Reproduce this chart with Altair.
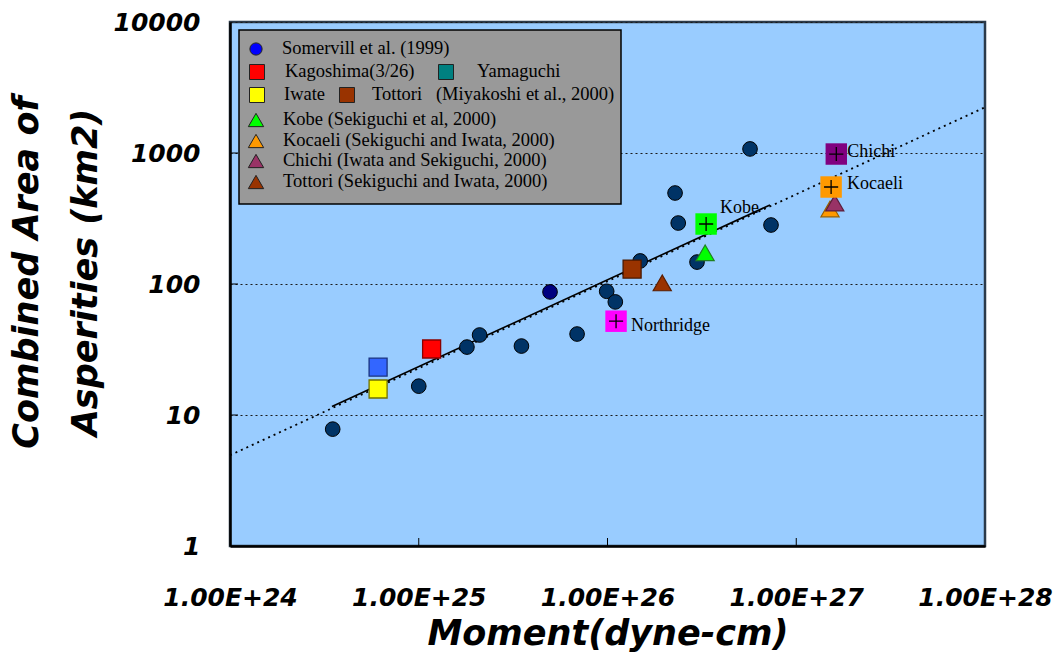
import altair as alt
import pandas as pd

# ---------------- data ----------------
# Somerville et al. (1999)
som_moment = [3.5e24, 1.0e25, 1.8e25, 2.1e25, 3.5e25, 6.9e25, 9.9e25, 1.1e26,
              1.49e26, 2.28e26, 2.37e26, 2.98e26, 5.69e26, 7.35e26]
som_area = [7.8, 16.6, 33, 40.8, 33.6, 41.5, 88, 73, 150, 495, 292, 147, 1074, 282]
som_dark_moment = [4.96e25]
som_dark_area = [87]

# squares (Miyakoshi et al.)
sq_names = ["Yamaguchi", "Iwate", "Kagoshima(3/26)", "Tottori  (Miyakoshi et al., 2000)"]
sq_moment = [6.09e24, 6.09e24, 1.17e25, 1.35e26]
sq_area = [23.2, 15.8, 31.9, 130]

# triangles (Sekiguchi / Iwata)
tri_names = ["Tottori (Sekiguchi and Iwata, 2000)", "Kobe (Sekiguchi et al, 2000)",
             "Kocaeli (Sekiguchi and Iwata, 2000)", "Chichi (Iwata and Sekiguchi, 2000)"]
tri_moment = [1.95e26, 3.29e26, 1.51e27, 1.6e27]
tri_area = [102, 173, 374, 415]

# crossed squares with labels
cross_names = ["Northridge", "Kobe", "Kocaeli", "Chichi"]
cross_moment = [1.11e26, 3.33e26, 1.53e27, 1.63e27]
cross_area = [52, 287, 550, 982]

# regression lines
fit_moment = [1e24, 1e28]
fit_area = [4.93, 2234]
seg_moment = [3.47e24, 7.26e26]
seg_area = [11.6, 401]

x_ticks = [1e24, 1e25, 1e26, 1e27, 1e28]
y_ticks = [1, 10, 100, 1000, 10000]
inner_x_ticks = [1e25, 1e26, 1e27]
inner_y_ticks = [10, 100, 1000]

legend_labels = ["Somervill et al. (1999)", "Kagoshima(3/26)", "Yamaguchi", "Iwate",
                 "Tottori\u00a0\u00a0 (Miyakoshi et al., 2000)",
                 "Kobe (Sekiguchi et al, 2000)", "Kocaeli (Sekiguchi and Iwata, 2000)",
                 "Chichi (Iwata and Sekiguchi, 2000)", "Tottori (Sekiguchi and Iwata, 2000)"]

# ---------------- styles ----------------
sq_fill = {"Yamaguchi": "#3366FF", "Iwate": "#FFFF00", "Kagoshima(3/26)": "#FF0000",
           "Tottori  (Miyakoshi et al., 2000)": "#993300"}
sq_stroke = {"Yamaguchi": "#1a3380", "Iwate": "#707000", "Kagoshima(3/26)": "#8a0000",
             "Tottori  (Miyakoshi et al., 2000)": "#4a1800"}
tri_fill = {tri_names[0]: "#993300", tri_names[1]: "#00FF00", tri_names[2]: "#FF9900",
            tri_names[3]: "#993366"}
tri_stroke = {tri_names[0]: "#5a1e00", tri_names[1]: "#208020", tri_names[2]: "#996000",
              tri_names[3]: "#5a1e3c"}
cross_fill = {"Northridge": "#FF00FF", "Kobe": "#00FF00", "Kocaeli": "#FF9900", "Chichi": "#800080"}
label_offset = {"Northridge": (15, 10), "Kobe": (14, -11), "Kocaeli": (16, 2), "Chichi": (11, 3)}

leg_fill = ["#0000FF", "#FF0000", "#008080", "#FFFF00", "#993300", "#00FF00", "#FF9900", "#993366", "#993300"]
leg_shape = ["circle", "square", "square", "square", "square",
             "triangle-up", "triangle-up", "triangle-up", "triangle-up"]
leg_size = [150, 225, 225, 225, 225, 235, 235, 235, 235]
# legend layout (pixels inside the plot area)
leg_row_y = [27, 50, 50, 73, 73, 98, 119, 139, 160]
leg_mark_x = [26, 27, 216, 27, 117, 26, 26, 26, 26]
leg_text_x = [52, 55, 247, 54, 142, 53, 53, 53, 53]

AX_FONT = "DejaVu Sans"
SERIF = "Liberation Serif"

# ---------------- tables ----------------
som_df = pd.DataFrame({"moment": som_moment, "area": som_area})
som_dark_df = pd.DataFrame({"moment": som_dark_moment, "area": som_dark_area})
sq_df = pd.DataFrame({"name": sq_names, "moment": sq_moment, "area": sq_area})
sq_df["fill"] = sq_df["name"].map(sq_fill)
sq_df["stroke"] = sq_df["name"].map(sq_stroke)
tri_df = pd.DataFrame({"name": tri_names, "moment": tri_moment, "area": tri_area})
tri_df["fill"] = tri_df["name"].map(tri_fill)
tri_df["stroke"] = tri_df["name"].map(tri_stroke)
cross_df = pd.DataFrame({"name": cross_names, "moment": cross_moment, "area": cross_area})
cross_df["fill"] = cross_df["name"].map(cross_fill)
fit_df = pd.DataFrame({"moment": fit_moment, "area": fit_area})
seg_df = pd.DataFrame({"moment": seg_moment, "area": seg_area})
xt_df = pd.DataFrame({"moment": inner_x_ticks})
yt_df = pd.DataFrame({"area": inner_y_ticks})
leg_df = pd.DataFrame({"label": legend_labels, "fill": leg_fill, "shape": leg_shape,
                       "sz": leg_size, "my": leg_row_y, "mx": leg_mark_x, "tx": leg_text_x})

x_enc = alt.X(
    "moment:Q",
    scale=alt.Scale(type="log", domain=[1e24, 1e28]),
    axis=alt.Axis(
        values=x_ticks,
        labelExpr="'1.00E+' + format(log(datum.value)/LN10, '.0f')",
        title="Moment(dyne-cm)",
        titleFont=AX_FONT, titleFontSize=35, titleFontStyle="italic", titleFontWeight="bold",
        titleColor="black", titleY=98, titleBaseline="alphabetic",
        labelFont=AX_FONT, labelFontSize=25, labelFontStyle="italic", labelFontWeight="bold",
        labelColor="black", labelPadding=39, labelFlush=False, labelOverlap=False,
        ticks=False, tickSize=0, grid=False,
        domainColor="black", domainWidth=2.5,
    ),
)
y_enc = alt.Y(
    "area:Q",
    scale=alt.Scale(type="log", domain=[1, 10000]),
    axis=alt.Axis(
        values=y_ticks, format="d",
        title=["Combined Area of", "Asperities (km2)"],
        titleFont=AX_FONT, titleFontSize=35, titleFontStyle="italic", titleFontWeight="bold",
        titleColor="black", titleAngle=270, titleX=-193, titleY=250,
        titleBaseline="alphabetic", titleAlign="center", titleLineHeight=59,
        labelFont=AX_FONT, labelFontSize=25, labelFontStyle="italic", labelFontWeight="bold",
        labelColor="black", labelPadding=30, labelOverlap=False, labelFlush=False,
        ticks=False, tickSize=0,
        grid=True, gridColor="#1a1a1a", gridDash=[2, 3], gridWidth=1.2,
        domainColor="black", domainWidth=2.5,
    ),
)

fit = alt.Chart(fit_df).mark_line(color="black", strokeWidth=1.8, strokeDash=[2, 4]).encode(
    x=x_enc, y=y_enc)
seg = alt.Chart(seg_df).mark_line(color="black", strokeWidth=1.6).encode(x="moment:Q", y="area:Q")

xt = alt.Chart(xt_df).mark_rule(color="black", strokeWidth=1).encode(
    x="moment:Q", y=alt.value(524), y2=alt.value(516))
yt = alt.Chart(yt_df).mark_rule(color="black", strokeWidth=1).encode(
    y="area:Q", x=alt.value(0), x2=alt.value(8))

som = alt.Chart(som_df).mark_point(
    shape="circle", filled=True, size=215, fill="#003366", stroke="black",
    strokeWidth=1, opacity=1).encode(x="moment:Q", y="area:Q")
som_dark = alt.Chart(som_dark_df).mark_point(
    shape="circle", filled=True, size=215, fill="#000080", stroke="black",
    strokeWidth=1, opacity=1).encode(x="moment:Q", y="area:Q")

sq = alt.Chart(sq_df).mark_point(shape="square", filled=True, size=324, strokeWidth=1.3,
                                 opacity=1).encode(
    x="moment:Q", y="area:Q",
    fill=alt.Fill("fill:N", scale=None), stroke=alt.Stroke("stroke:N", scale=None))

tri = alt.Chart(tri_df).mark_point(shape="triangle-up", filled=True, size=330, strokeWidth=1.2,
                                   opacity=1).encode(
    x="moment:Q", y="area:Q",
    fill=alt.Fill("fill:N", scale=None), stroke=alt.Stroke("stroke:N", scale=None))

csq = alt.Chart(cross_df).mark_point(shape="square", filled=True, size=460, opacity=1,
                                     strokeWidth=0).encode(
    x="moment:Q", y="area:Q", fill=alt.Fill("fill:N", scale=None))
cx = alt.Chart(cross_df).mark_point(shape="M-1,0L1,0M0,-1L0,1", filled=False, size=200,
                                    stroke="black", strokeWidth=1.3, opacity=1).encode(
    x="moment:Q", y="area:Q")

labels = []
for nm in cross_names:
    dx, dy = label_offset[nm]
    labels.append(
        alt.Chart(cross_df).transform_filter(alt.datum.name == nm).mark_text(
            align="left", baseline="alphabetic", dx=dx, dy=dy, font=SERIF, fontSize=18,
            color="black").encode(x="moment:Q", y="area:Q", text="name:N"))

box = alt.Chart(pd.DataFrame({"k": [0]})).mark_rect(
    fill="#999999", stroke="black", strokeWidth=1.5).encode(
    x=alt.value(9), x2=alt.value(391), y=alt.value(8), y2=alt.value(182))

leg_marks = alt.Chart(leg_df).mark_point(filled=True, opacity=1, stroke="#222222",
                                         strokeWidth=1).encode(
    x=alt.X("mx:Q", scale=None), y=alt.Y("my:Q", scale=None),
    shape=alt.Shape("shape:N", scale=None), fill=alt.Fill("fill:N", scale=None),
    size=alt.Size("sz:Q", scale=None))
leg_text = alt.Chart(leg_df).mark_text(align="left", baseline="middle", font=SERIF,
                                       fontSize=18.5, color="black", dy=-1).encode(
    x=alt.X("tx:Q", scale=None), y=alt.Y("my:Q", scale=None), text="label:N")

chart = alt.layer(
    fit, seg, xt, yt, som, som_dark, sq, tri, csq, cx, *labels, box, leg_marks, leg_text
).properties(
    width=755, height=524,
    padding={"left": 230, "top": 22, "right": 78, "bottom": 116},
    autosize=alt.AutoSizeParams(type="none"),
    background="white",
).configure_view(fill="#99CCFF", stroke="#2b3a4a", strokeWidth=2.5)

chart.save("out.html", embed_options={"renderer": "svg", "actions": False})
